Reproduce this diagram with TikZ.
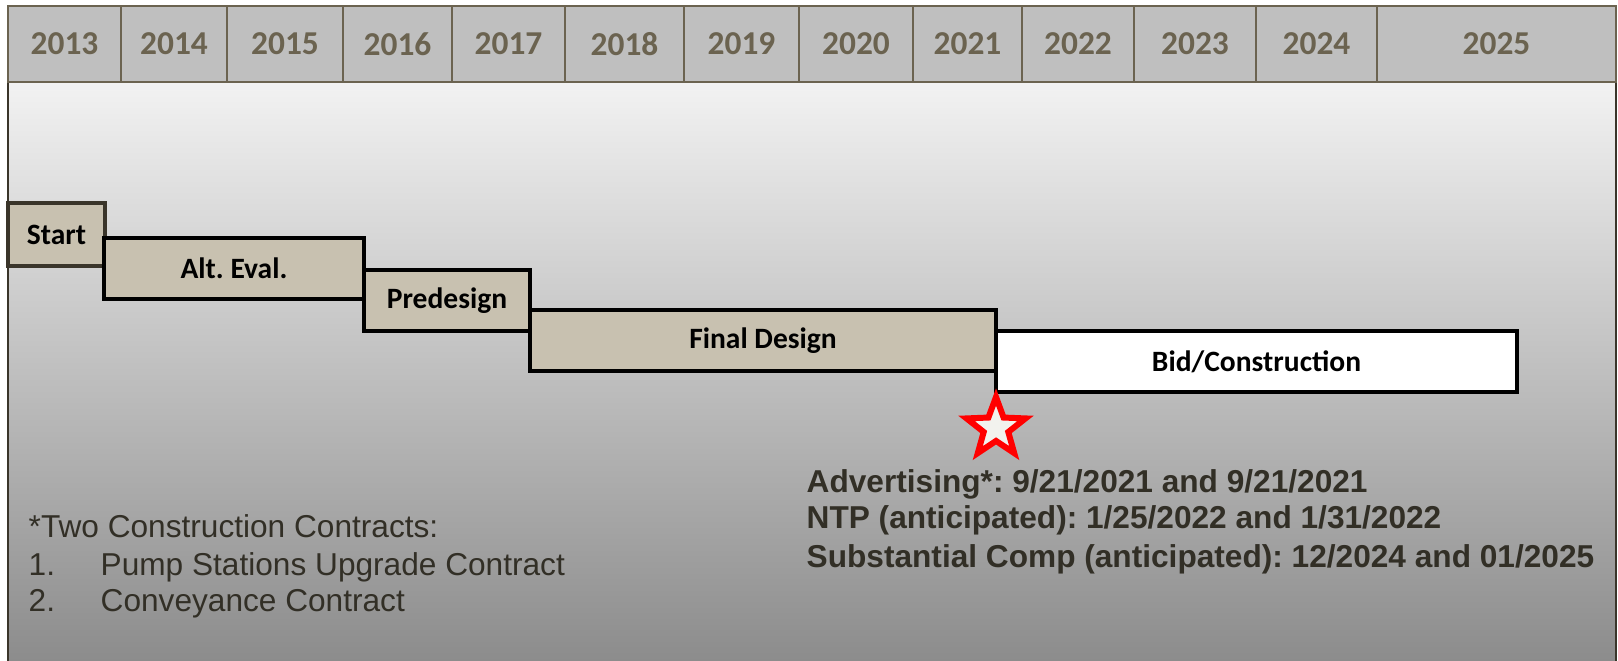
\documentclass[tikz,border=0pt]{standalone}
\usepackage{fontspec}
\setmainfont{Liberation Sans}
\newfontfamily\calfont{Carlito}
\usetikzlibrary{shapes.geometric}
\frenchspacing
\definecolor{yearbrown}{RGB}{107,99,80}
\definecolor{headgray}{RGB}{191,191,191}
\definecolor{phasetan}{RGB}{200,193,176}
\definecolor{framedark}{RGB}{58,53,42}
\definecolor{notetext}{RGB}{50,47,38}
\definecolor{starfill}{RGB}{242,242,238}
\definecolor{paneltop}{RGB}{242,242,242}
\definecolor{panelbottom}{RGB}{140,140,140}

\begin{document}
\begin{tikzpicture}[x=0.1mm,y=-0.1mm,
    yearcell/.style={draw=yearbrown,fill=headgray,line width=0.6pt,minimum height=7.6mm,inner sep=0pt,
      text=yearbrown,font=\calfont\bfseries\fontsize{9.5}{11}\selectfont},
    phase/.style={draw=black,fill=phasetan,line width=1.2pt,minimum height=6.1mm,inner sep=0pt,
      font=\calfont\bfseries\fontsize{8.4}{10}\selectfont},
    note/.style={anchor=base west,inner sep=0pt,text=notetext,font=\fontsize{9}{10.6}\selectfont},
    keydate/.style={note,font=\bfseries\fontsize{9}{10.6}\selectfont}]
  \useasboundingbox (0,0) rectangle (1618,661);
  % panel behind the bars
  \shade[top color=paneltop,bottom color=panelbottom] (8,82) rectangle (1616,661);
  \draw[framedark,line width=0.7pt] (8,82) -- (8,661) (1616,82) -- (1616,661);
  % year header
  \foreach \yr/\xa/\xb in {2013/8/121,2014/121/227,2015/227/343,2016/343/452,2017/452/565,
      2018/565/684,2019/684/799,2020/799/913,2021/913/1022,2022/1022/1134,2023/1134/1256,
      2024/1256/1377,2025/1377/1616}
    \node[yearcell,minimum width={(\xb-\xa)*0.1mm}] (y\yr) at ({(\xa+\xb)/2},44) {\yr};
  % phases
  \node[phase,draw=framedark,line width=1.4pt,minimum width=9.7mm,minimum height=6.3mm] (start) at (56.5,234.5) {Start};
  \node[phase,minimum width=26mm] (alteval) at (234,268.5) {Alt. Eval.};
  \node[phase,minimum width=16.6mm] (predesign) at (447,300.5) {Predesign};
  \node[phase,minimum width=46.6mm] (finaldesign) at (763,340.5) {Final Design};
  \node[phase,fill=white,minimum width=52.1mm] (bidcon) at (1256.5,361.5) {Bid/Construction};
  % milestone
  \node[star,star points=5,star point ratio=2.4,minimum size=6.2mm,inner sep=0pt,
    draw=red,fill=starfill,line width=1.7pt] (milestone) at (996,428) {};
  % key dates
  \node[keydate] (advert) at (806,492) {Advertising*: 9/21/2021 and 9/21/2021};
  \node[keydate] (ntp) at (806,529) {NTP (anticipated): 1/25/2022 and 1/31/2022};
  \node[keydate] (subcomp) at (806,567) {Substantial Comp (anticipated): 12/2024 and 01/2025};
  % contracts note
  \node[note] (contracts) at (28,537) {*Two Construction Contracts:};
  \node[note] (num1) at (28,575) {1.};
  \node[note] (pumps) at (100,575) {Pump Stations Upgrade Contract};
  \node[note] (num2) at (28,611) {2.};
  \node[note] (convey) at (100,611) {Conveyance Contract};
\end{tikzpicture}
\end{document}
